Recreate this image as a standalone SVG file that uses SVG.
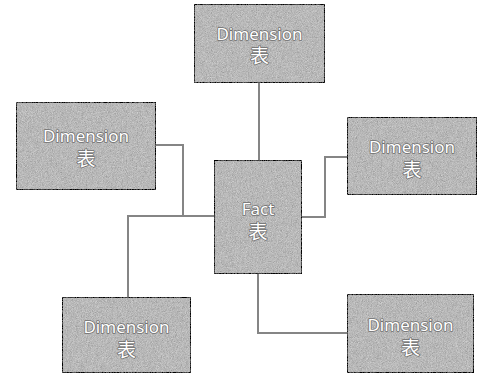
<svg xmlns="http://www.w3.org/2000/svg" width="483" height="377" viewBox="0 0 483 377">
<defs>
<filter id="grain" x="0" y="0" width="100%" height="100%">
<feTurbulence type="fractalNoise" baseFrequency="1.2" numOctaves="2" seed="3" result="n"/>
<feColorMatrix in="n" type="matrix" values="0.6 0.3 0.1 0 0  0.6 0.3 0.1 0 0  0.6 0.3 0.1 0 0  0 0 0 0 1" result="g"/>
<feComposite in="SourceGraphic" in2="g" operator="arithmetic" k1="0" k2="1" k3="0.6" k4="-0.29" result="m"/>
<feComposite in="m" in2="SourceGraphic" operator="in"/>
</filter>
</defs>
<style>
.box{fill:#b6b6b6;stroke:#2e2e2e;stroke-width:2;filter:url(#grain)}
.lbl{font-family:"Noto Sans","Noto Sans CJK SC",sans-serif;font-size:17px;fill:#ffffff;stroke:#6e6e6e;stroke-width:1.6;paint-order:stroke;stroke-linejoin:round;text-anchor:middle}
.cn{font-size:19px}
.conn{fill:none;stroke:#858585;stroke-width:2}
</style>
<rect width="483" height="377" fill="#ffffff"/>
<g id="connectors">
<path class="conn" d="M259,83 V160"/>
<path class="conn" d="M156,145 H183 V216 H214"/>
<path class="conn" d="M128,297 V216 H183"/>
<path class="conn" d="M302,217 H325 V157 H347"/>
<path class="conn" d="M258,274 V333 H347"/>
</g>
<g id="dim-top">
<rect class="box" x="194" y="4" width="131" height="79"/>
<text class="lbl" x="259.5" y="40">Dimension</text>
<text class="lbl cn" x="259.5" y="63">表</text>
</g>
<g id="dim-left">
<rect class="box" x="16" y="102" width="140" height="88"/>
<text class="lbl" x="86" y="142">Dimension</text>
<text class="lbl cn" x="86" y="166">表</text>
</g>
<g id="fact">
<rect class="box" x="214" y="160" width="88" height="114"/>
<text class="lbl" x="258" y="215">Fact</text>
<text class="lbl cn" x="258" y="239">表</text>
</g>
<g id="dim-right-top">
<rect class="box" x="347" y="117" width="130" height="78"/>
<text class="lbl" x="412" y="153">Dimension</text>
<text class="lbl cn" x="412" y="177">表</text>
</g>
<g id="dim-bottom-left">
<rect class="box" x="62" y="297" width="129" height="76"/>
<text class="lbl" x="126.5" y="333">Dimension</text>
<text class="lbl cn" x="126.5" y="357">表</text>
</g>
<g id="dim-bottom-right">
<rect class="box" x="347" y="294" width="127" height="79"/>
<text class="lbl" x="410.5" y="331">Dimension</text>
<text class="lbl cn" x="410.5" y="355">表</text>
</g>
</svg>
